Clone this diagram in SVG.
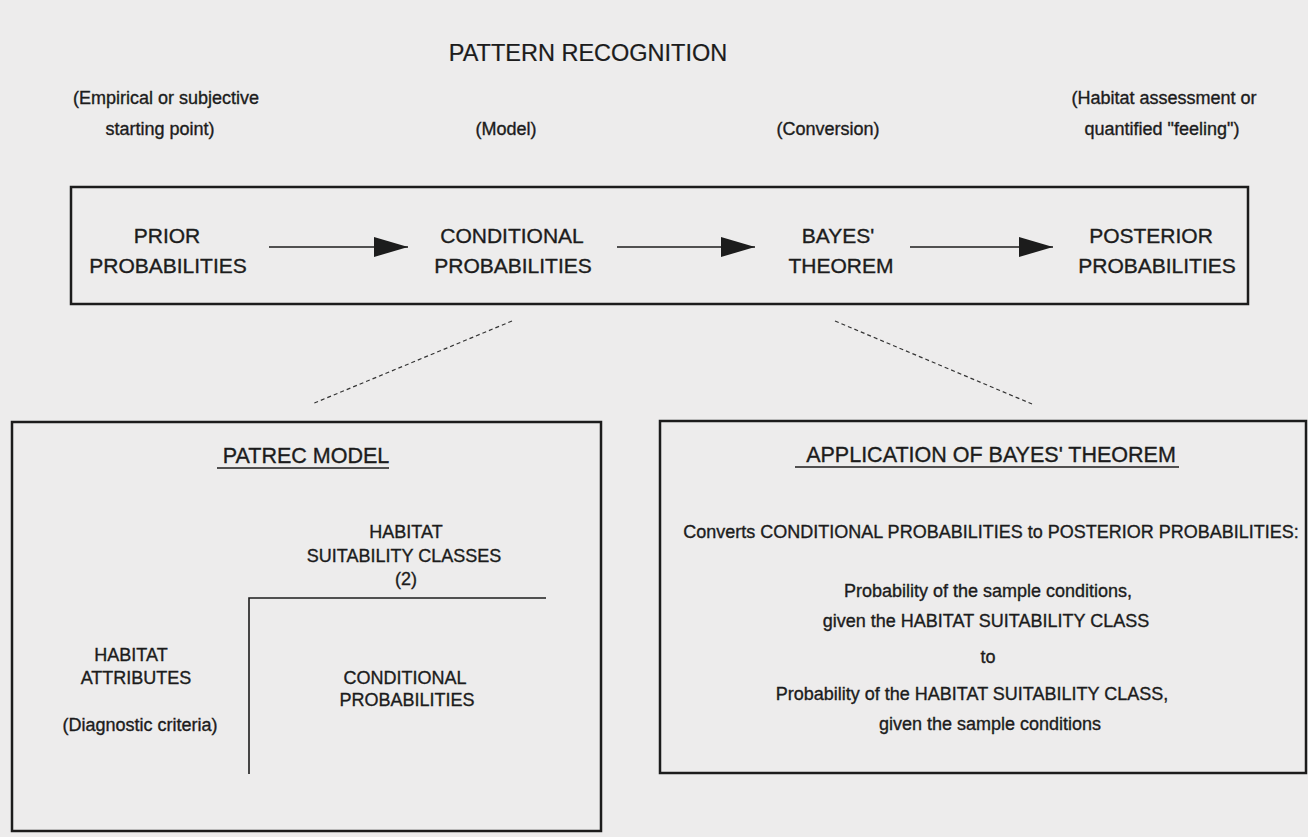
<svg xmlns="http://www.w3.org/2000/svg" width="1308" height="837" viewBox="0 0 1308 837">
<defs>
<style>
text{font-family:"Liberation Sans",Arial,sans-serif;fill:#1c1c1c;stroke:#1c1c1c;stroke-width:0.35;text-anchor:middle}
.title{font-size:23.5px;stroke-width:0.2}
.lab{font-size:21px}
.sm{font-size:18px}
.hd{font-size:21.5px}
.box{fill:none;stroke:#1c1c1c;stroke-width:2.5}
.ln{fill:none;stroke:#1c1c1c;stroke-width:1.6}
.dash{fill:none;stroke:#333;stroke-width:1.2;stroke-dasharray:4 3}
</style>
<marker id="ah" markerUnits="userSpaceOnUse" markerWidth="34" markerHeight="20" refX="34" refY="10" orient="auto">
<path d="M0,0 L34,10 L0,20 Z" fill="#1c1c1c"/>
</marker>
</defs>
<rect width="1308" height="837" fill="#edecec"/>
<text class="title" x="588" y="61">PATTERN RECOGNITION</text>
<g id="annotations">
<text class="sm" x="166" y="104">(Empirical or subjective</text>
<text class="sm" x="160" y="135">starting point)</text>
<text class="sm" x="506" y="135">(Model)</text>
<text class="sm" x="828" y="135">(Conversion)</text>
<text class="sm" x="1164" y="104">(Habitat assessment or</text>
<text class="sm" x="1162" y="135">quantified "feeling")</text>
</g>
<g id="flow-box"><rect class="box" x="71" y="187" width="1177" height="117"/></g>
<g id="prior"><text class="lab" x="167" y="243">PRIOR</text><text class="lab" x="168" y="273">PROBABILITIES</text></g>
<g id="conditional"><text class="lab" x="512" y="243">CONDITIONAL</text><text class="lab" x="513" y="273">PROBABILITIES</text></g>
<g id="bayes"><text class="lab" x="838" y="243">BAYES'</text><text class="lab" x="841" y="273">THEOREM</text></g>
<g id="posterior"><text class="lab" x="1151" y="243">POSTERIOR</text><text class="lab" x="1157" y="273">PROBABILITIES</text></g>
<g id="connectors">
<line class="ln" x1="269" y1="247" x2="408" y2="247" marker-end="url(#ah)"/>
<line class="ln" x1="617" y1="247" x2="755" y2="247" marker-end="url(#ah)"/>
<line class="ln" x1="910" y1="247" x2="1053" y2="247" marker-end="url(#ah)"/>
<line class="dash" x1="512" y1="321" x2="312" y2="404"/>
<line class="dash" x1="835" y1="321" x2="1032" y2="404"/>
</g>
<g id="patrec-model">
<rect class="box" x="12" y="422" width="589" height="409"/>
<text class="hd" x="306" y="463">PATREC MODEL</text>
<line class="ln" x1="217" y1="468" x2="389" y2="468"/>
<text class="sm" x="406" y="538">HABITAT</text>
<text class="sm" x="404" y="562">SUITABILITY CLASSES</text>
<text class="sm" x="406" y="585">(2)</text>
<path class="ln" d="M546,598 H249 V774"/>
<text class="sm" x="131" y="661">HABITAT</text>
<text class="sm" x="136" y="684">ATTRIBUTES</text>
<text class="sm" x="140" y="731">(Diagnostic criteria)</text>
<text class="sm" x="405" y="684">CONDITIONAL</text>
<text class="sm" x="407" y="706">PROBABILITIES</text>
</g>
<g id="bayes-application">
<rect class="box" x="660" y="421" width="646" height="352"/>
<text class="hd" x="991" y="462">APPLICATION OF BAYES' THEOREM</text>
<line class="ln" x1="795" y1="467" x2="1179" y2="467"/>
<text class="sm" x="991" y="538">Converts CONDITIONAL PROBABILITIES to POSTERIOR PROBABILITIES:</text>
<text class="sm" x="988" y="597">Probability of the sample conditions,</text>
<text class="sm" x="986" y="627">given the HABITAT SUITABILITY CLASS</text>
<text class="sm" x="988" y="663">to</text>
<text class="sm" x="972" y="700">Probability of the HABITAT SUITABILITY CLASS,</text>
<text class="sm" x="990" y="730">given the sample conditions</text>
</g>
</svg>
